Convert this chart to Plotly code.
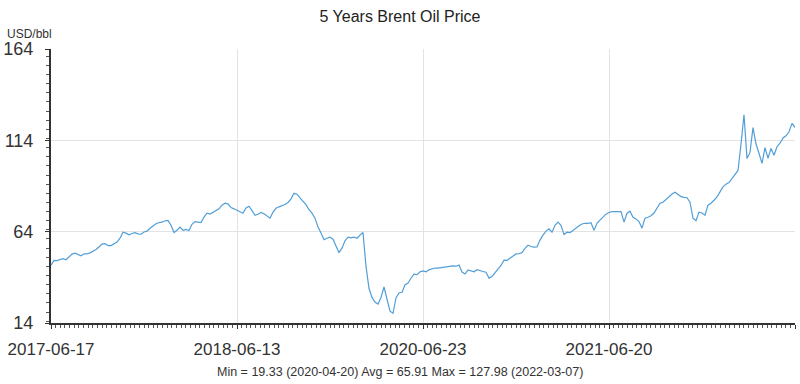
import plotly.graph_objects as go

# Brent price samples (USD/bbl), equally spaced along the category axis
prices = [
    45.7, 48.3, 48.2, 48.8, 49.2, 48.6, 50.4, 51.7, 52.2, 51.7,
    50.8, 51.9, 51.8, 52.4, 53.2, 54.2, 55.6, 57.2, 57.5, 56.4,
    56.4, 57.4, 58.3, 60.4, 63.7, 63.2, 62.3, 63.0, 63.5, 62.8,
    62.6, 63.8, 64.3, 65.9, 67.3, 68.3, 69.0, 69.2, 70.0, 70.2,
    67.5, 63.5, 64.8, 66.5, 64.8, 65.2, 64.6, 68.0, 69.5, 69.4,
    69.0, 72.0, 74.1, 73.6, 74.7, 75.4, 76.5, 78.5, 79.6, 79.2,
    77.2, 76.5, 75.7, 74.7, 74.1, 77.0, 77.9, 75.5, 73.0, 73.5,
    74.5, 73.8, 72.4, 71.4, 74.7, 76.8, 77.6, 78.2, 78.9, 80.0,
    82.0, 85.0, 84.5, 82.5, 80.7, 78.8, 76.0, 74.1, 71.4, 66.5,
    63.3, 59.6, 60.4, 61.0, 59.9, 56.5, 52.5, 55.0, 59.0, 61.0,
    60.6, 61.0, 60.4, 62.1, 63.5, 45.0, 33.0, 28.0, 25.5, 24.4,
    28.0, 33.7, 27.7, 20.5, 19.33, 27.7, 30.4, 30.8, 34.8, 35.9,
    38.5, 40.8, 40.5, 42.0, 42.5, 42.0, 43.1, 43.5, 44.1, 44.0,
    44.3, 44.6, 45.0, 45.1, 45.3, 45.1, 45.7, 41.9, 40.8, 43.0,
    42.3, 42.0, 43.2, 42.5, 42.2, 41.8, 38.6, 39.5, 41.5, 43.5,
    45.5, 48.4, 48.3, 49.5, 50.6, 51.8, 51.9, 52.5, 54.8, 56.6,
    55.9, 55.5, 55.6, 59.4, 62.1, 64.3, 65.6, 63.7, 67.5, 69.2,
    67.5, 62.4, 63.7, 63.5, 64.6, 66.0, 67.2, 68.2, 68.6, 68.5,
    68.9, 64.8, 68.6, 70.3, 71.9, 73.6, 74.5, 75.0, 75.0, 74.9,
    75.0, 69.2, 74.1, 75.2, 71.9, 71.0, 69.5, 65.9, 71.4, 71.9,
    72.7, 74.2, 76.8, 79.6, 80.1, 81.7, 83.4, 84.6, 85.6, 84.5,
    83.2, 82.8, 82.6, 80.1, 71.4, 70.0, 74.7, 74.2, 73.0, 78.5,
    79.6, 81.2, 83.0, 85.8, 88.5, 90.0, 90.9, 93.0, 95.3, 97.5,
    112.0, 127.98, 104.0, 107.4, 121.0, 112.0, 106.9, 101.4, 110.0, 104.2,
    109.6, 105.8, 110.5, 112.4, 115.3, 116.5, 118.7, 123.3, 121.1,
]
tick_positions = [0, 62, 124, 186, 248]
tick_labels = ["2017-06-17", "2018-06-13", "2020-06-23", "2021-06-20", ""]
y_ticks = [14, 64, 114, 164]

title_text = "5 Years Brent Oil Price"
unit_text = "USD/bbl"
stats_text = "Min = 19.33 (2020-04-20) Avg = 65.91 Max = 127.98 (2022-03-07)"

FONT = "Liberation Sans, Arial, sans-serif"

fig = go.Figure()
fig.add_trace(go.Scatter(
    x=list(range(len(prices))), y=prices, mode="lines",
    line=dict(color="#529fd8", width=1.2), hoverinfo="y",
))

fig.update_layout(
    width=800, height=384,
    margin=dict(l=51, r=5, t=49, b=61),
    paper_bgcolor="white", plot_bgcolor="white",
    showlegend=False,
    font=dict(family=FONT, color="#333333"),
    title=dict(text=title_text, x=0.5, xanchor="center", y=1 - 16 / 384,
               yanchor="middle", font=dict(size=16, color="#222222", family=FONT)),
    xaxis=dict(
        range=[0, len(prices) - 1], automargin=False,
        tickmode="array", tickvals=tick_positions, ticktext=tick_labels,
        showgrid=True, gridcolor="#e3e3e3", gridwidth=1,
        showline=True, linecolor="#333333", linewidth=2,
        ticks="outside", ticklen=4, tickcolor="#333333", tickwidth=1,
        tickfont=dict(size=17, color="#333333"),
        ticklabelstandoff=6,
        zeroline=False,
        minor=dict(dtick=1.55, ticks="outside", ticklen=3, tickcolor="#555555", showgrid=False),
    ),
    yaxis=dict(
        range=[14, 164], automargin=False,
        tickmode="array", tickvals=y_ticks,
        showgrid=True, gridcolor="#e3e3e3", gridwidth=1,
        showline=True, linecolor="#333333", linewidth=2,
        ticks="outside", ticklen=4, tickcolor="#333333", tickwidth=1,
        tickfont=dict(size=18, color="#333333"),
        ticklabelstandoff=8,
        zeroline=False,
        minor=dict(dtick=5, ticks="outside", ticklen=3, tickcolor="#555555", showgrid=False),
    ),
    annotations=[
        dict(text=unit_text, xref="paper", yref="paper",
             x=(5 - 51) / 744, y=(323 - 34) / 274, xanchor="left", yanchor="middle",
             showarrow=False, font=dict(size=12, color="#333333")),
        dict(text=stats_text, xref="paper", yref="paper",
             x=(400 - 51) / 744, y=(323 - 372) / 274, xanchor="center", yanchor="middle",
             showarrow=False, font=dict(size=12.5, color="#333333")),
    ],
)

fig.write_html(
    "out.html",
    config={"displayModeBar": False},
    post_script="document.body.style.margin='0';document.body.style.overflow='hidden';",
)
